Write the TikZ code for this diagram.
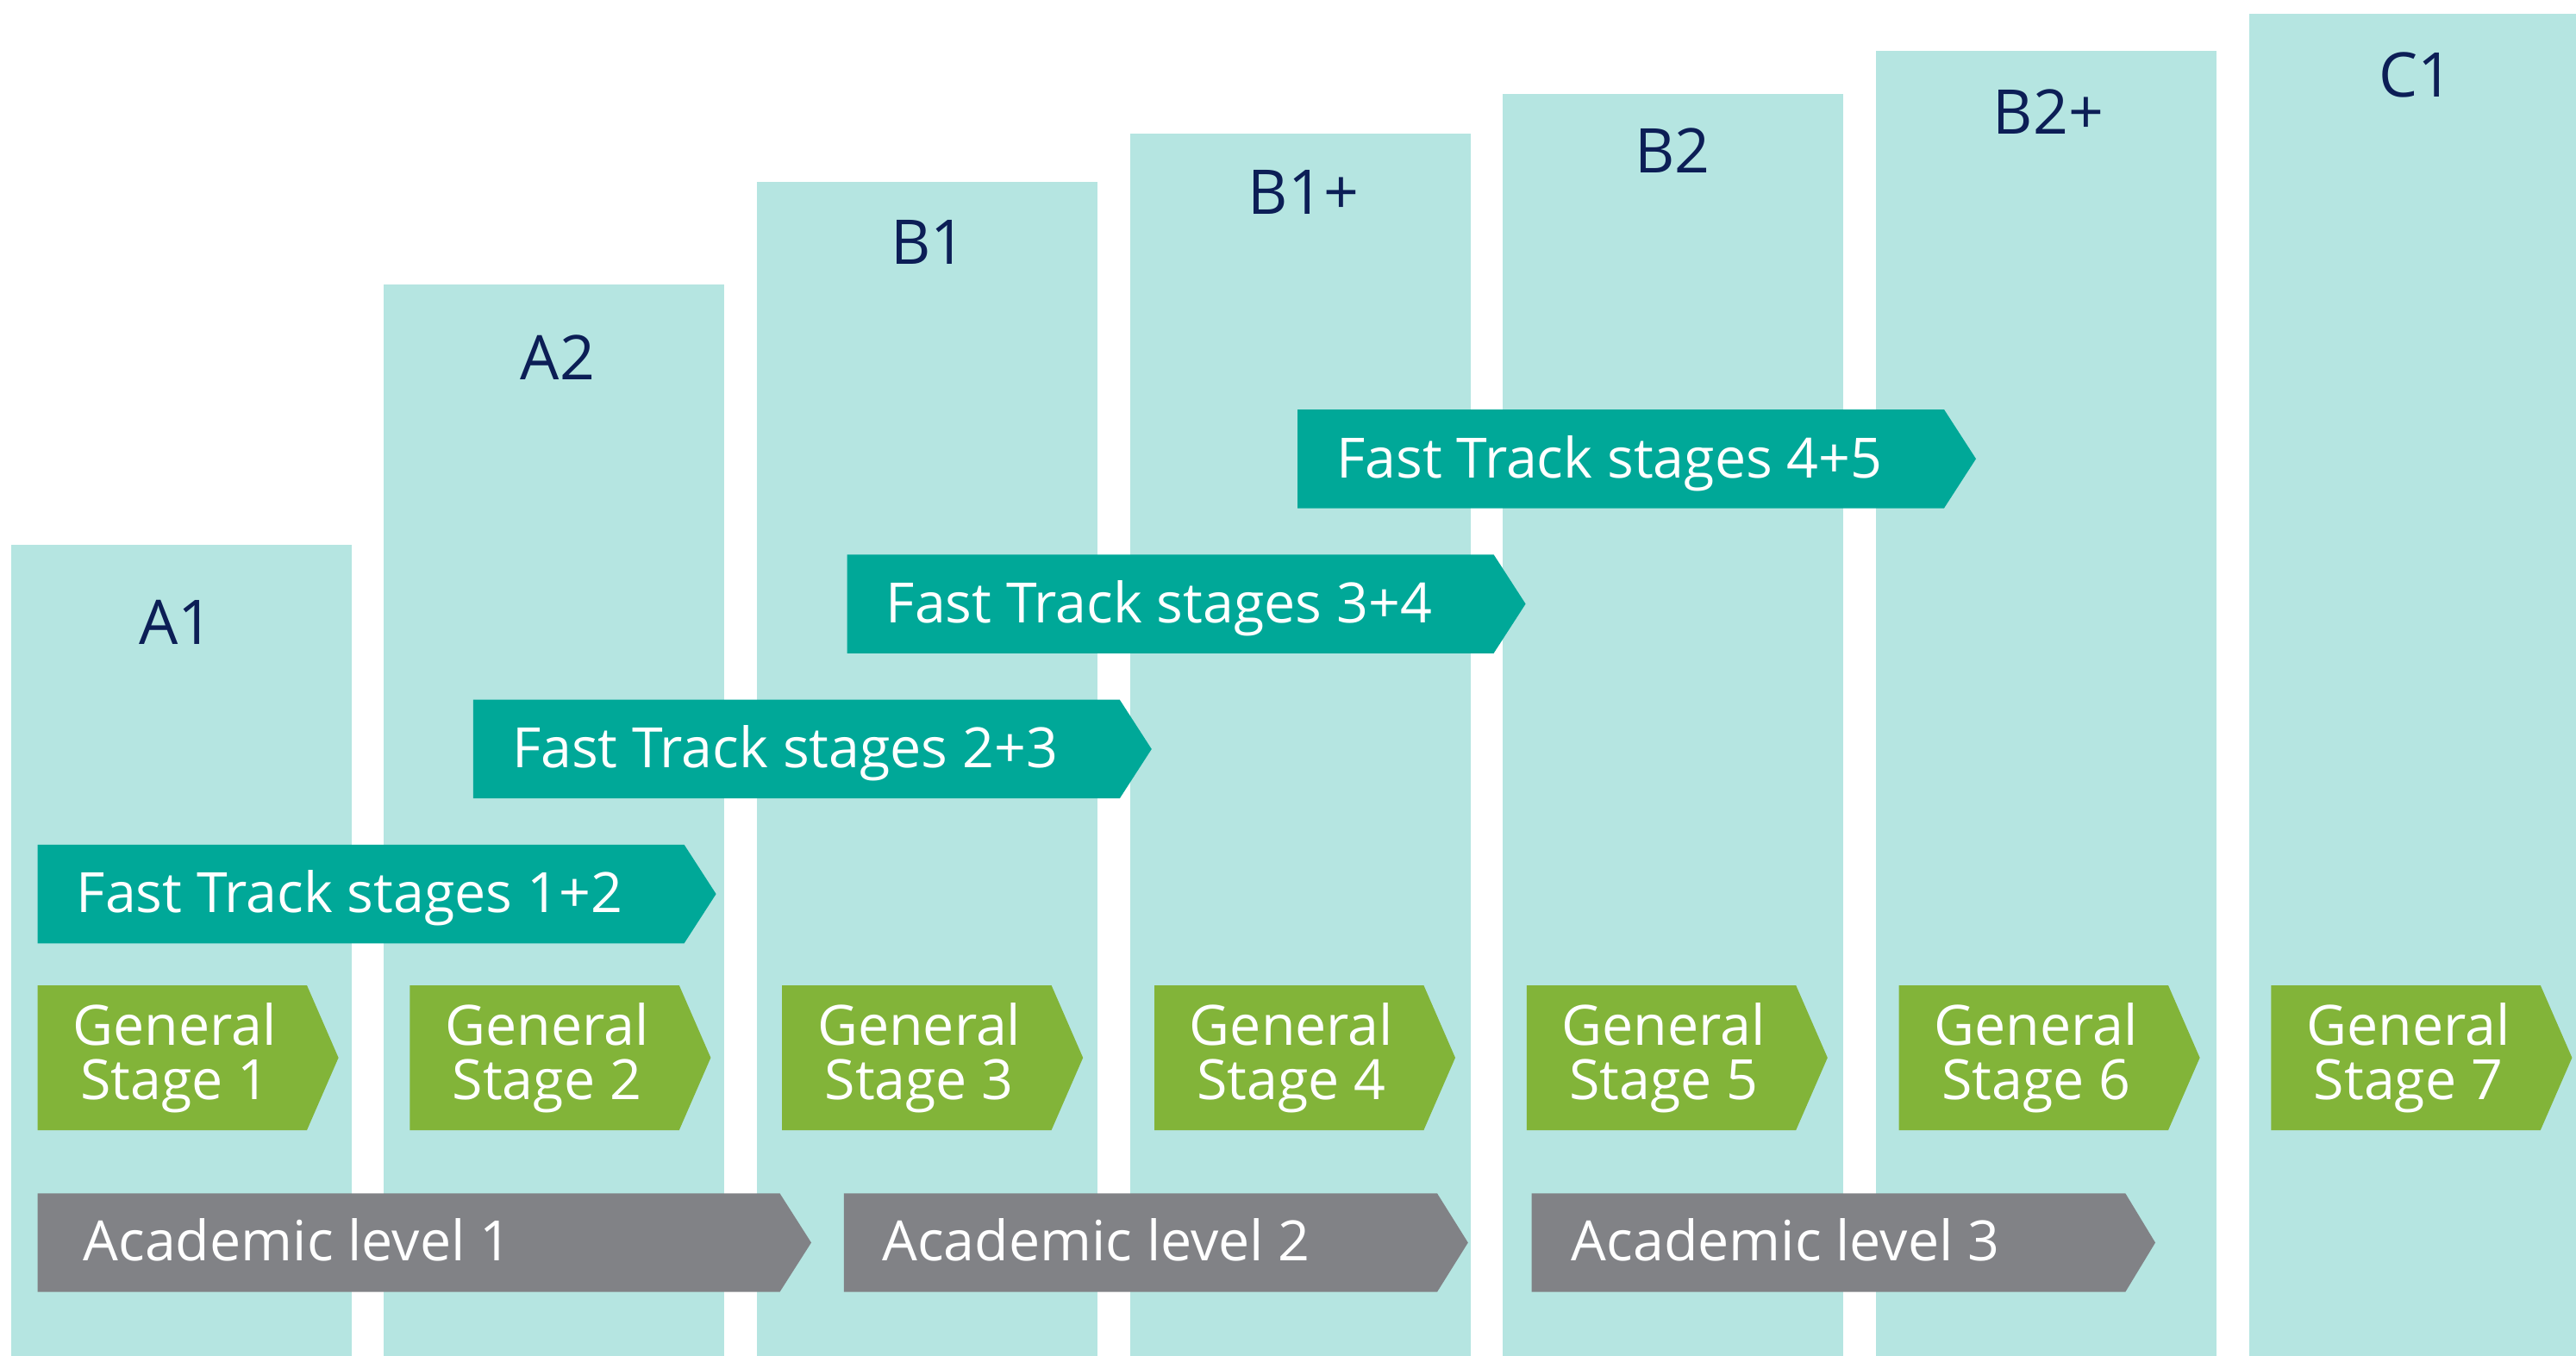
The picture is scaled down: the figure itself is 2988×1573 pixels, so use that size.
\documentclass[tikz,border=0pt]{standalone}
\usepackage{fontspec}
\setmainfont{Open Sans}
\definecolor{colbg}{RGB}{181,229,225}
\definecolor{ftc}{RGB}{0,168,152}
\definecolor{gsc}{RGB}{130,180,57}
\definecolor{alc}{RGB}{129,130,134}
\definecolor{navy}{RGB}{12,30,86}
\begin{document}
\begin{tikzpicture}[x=1pt,y=-1pt,
  colbox/.style={fill=colbg},
  ftbox/.style={fill=ftc},
  gsbox/.style={fill=gsc},
  albox/.style={fill=alc},
  wtxt/.style={text=white,inner sep=0pt,font=\fontsize{64.5}{63}\selectfont},
  lbl/.style={text=navy,inner sep=0pt,anchor=base,font=\fontsize{71.5}{80}\selectfont}]
\useasboundingbox (0,0) rectangle (2988,1573);
% columns
\fill[colbox] (12.6,632) rectangle (407.6,1573);
\fill[colbox] (445.3,329.5) rectangle (840.3,1573);
\fill[colbox] (877.9,210.7) rectangle (1272.9,1573);
\fill[colbox] (1310.6,155) rectangle (1705.6,1573);
\fill[colbox] (1743.2,109.3) rectangle (2138.2,1573);
\fill[colbox] (2175.9,59) rectangle (2570.9,1573);
\fill[colbox] (2608.5,15.7) rectangle (2988,1573);
% column labels
\node[lbl] (lA1) at (204.5,747) {A1};
\node[lbl] (lA2) at (647,440.7) {A2};
\node[lbl] (lB1) at (1077,306) {B1};
\node[lbl] (lB1p) at (1512,248.3) {B1+};
\node[lbl] (lB2) at (1940,201) {B2};
\node[lbl] (lB2p) at (2376,155.4) {B2+};
\node[lbl] (lC1) at (2802,112.9) {C1};
% fast track bars
\fill[ftbox] (43.6,979.8) -- (793.6,979.8) -- (830.6,1037.05) -- (793.6,1094.3) -- (43.6,1094.3) -- cycle;
\fill[ftbox] (548.8,811.7) -- (1298.8,811.7) -- (1335.8,868.95) -- (1298.8,926.2) -- (548.8,926.2) -- cycle;
\fill[ftbox] (982.6,643.3) -- (1732.6,643.3) -- (1769.6,700.55) -- (1732.6,757.8) -- (982.6,757.8) -- cycle;
\fill[ftbox] (1505,475) -- (2255,475) -- (2292,532.25) -- (2255,589.5) -- (1505,589.5) -- cycle;
\node[wtxt,anchor=base west] (ft1) at (88.6,1058.8) {Fast Track stages 1+2};
\node[wtxt,anchor=base west] (ft2) at (593.8,890.7) {Fast Track stages 2+3};
\node[wtxt,anchor=base west] (ft3) at (1027.6,722.3) {Fast Track stages 3+4};
\node[wtxt,anchor=base west] (ft4) at (1550,554) {Fast Track stages 4+5};
% general stages
\foreach \i/\x in {1/43.6,2/475.4,3/907.2,4/1339.0,5/1770.8,6/2202.6,7/2634.4}{
  \fill[gsbox] (\x,1143) -- ({\x+312.4},1143) -- ({\x+349},1227) -- ({\x+312.4},1311) -- (\x,1311) -- cycle;
  \node[wtxt,align=center,anchor=base] (gs\i) at ({\x+159},1275.5) {General\\Stage \i};
}
% academic levels
\fill[albox] (43.6,1384.3) -- (904.5,1384.3) -- (941,1441.5) -- (904.5,1498.7) -- (43.6,1498.7) -- cycle;
\fill[albox] (978.9,1384.3) -- (1667,1384.3) -- (1702.8,1441.5) -- (1667,1498.7) -- (978.9,1498.7) -- cycle;
\fill[albox] (1776.6,1384.3) -- (2465.3,1384.3) -- (2500,1441.5) -- (2465.3,1498.7) -- (1776.6,1498.7) -- cycle;
\node[wtxt,anchor=base west] (al1) at (96.4,1462.7) {Academic level 1};
\node[wtxt,anchor=base west] (al2) at (1023,1462.7) {Academic level 2};
\node[wtxt,anchor=base west] (al3) at (1822.6,1462.7) {Academic level 3};
\end{tikzpicture}
\end{document}
